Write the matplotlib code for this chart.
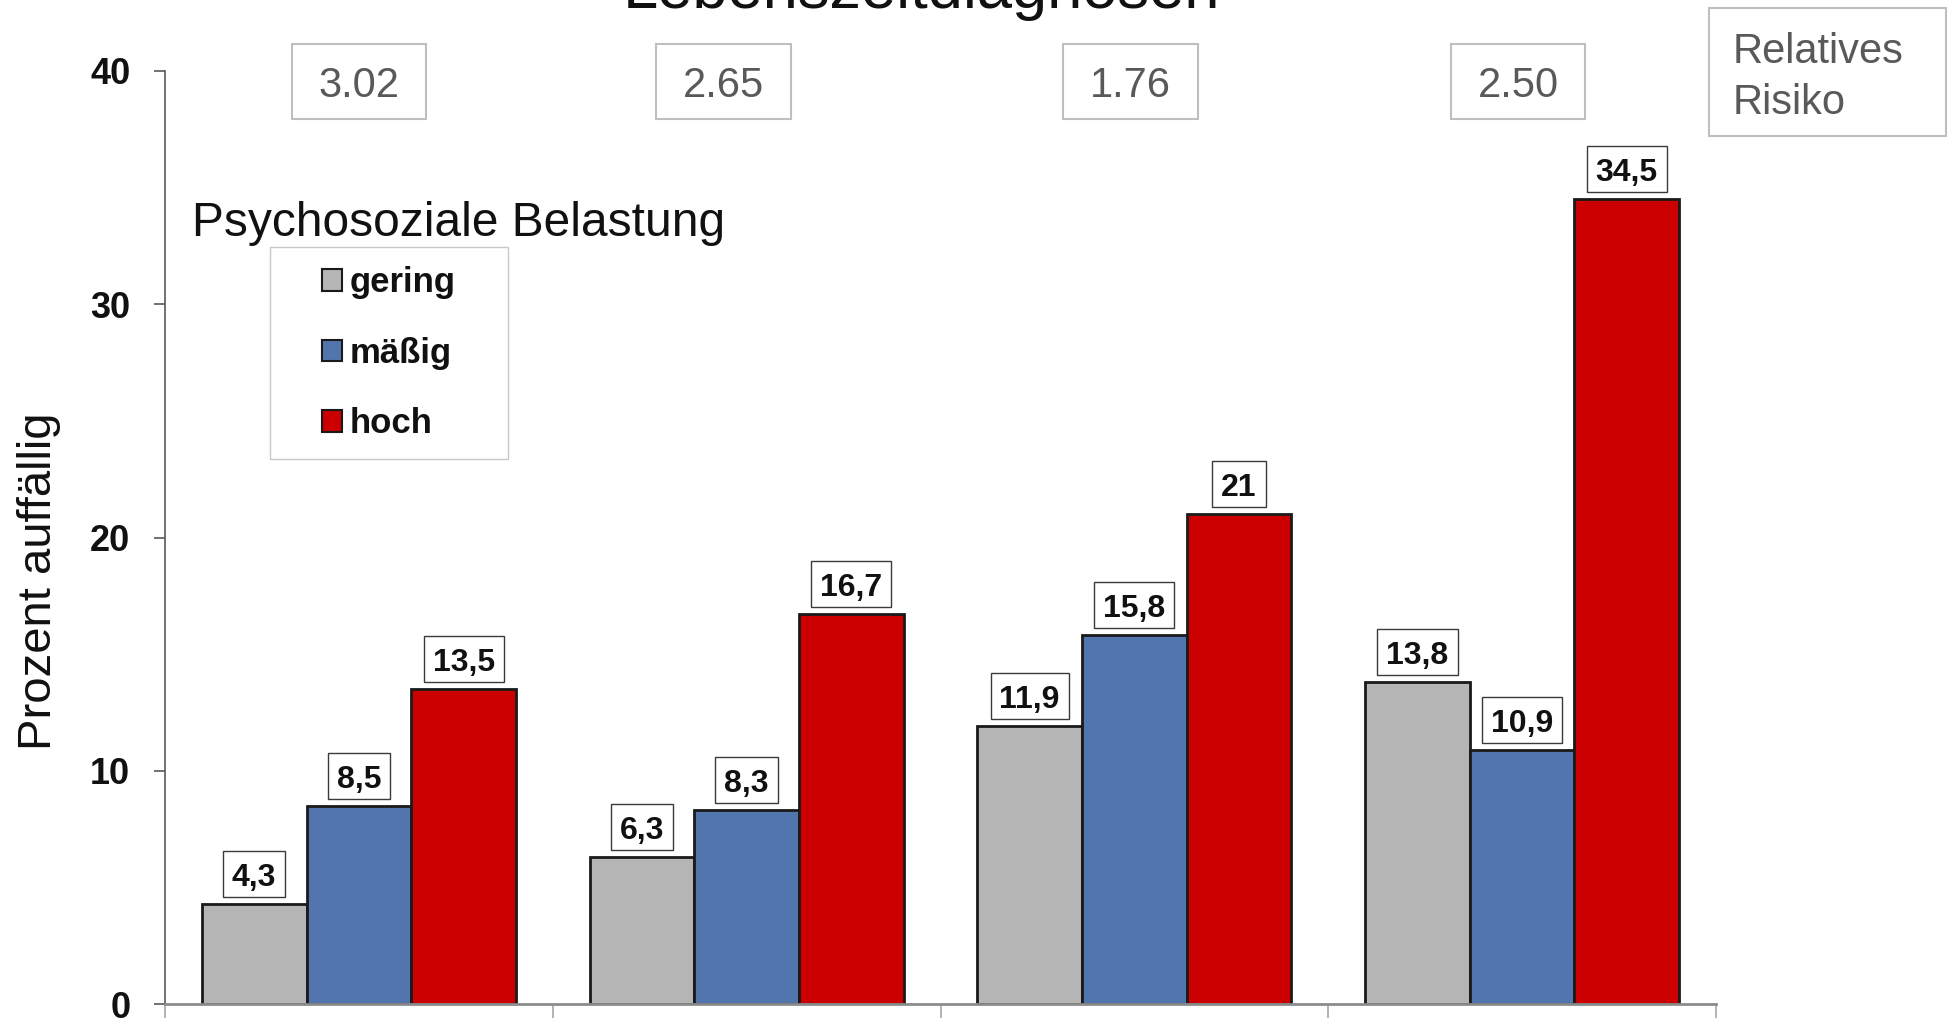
import matplotlib
matplotlib.use("Agg")
import matplotlib.pyplot as plt
from matplotlib.patches import Patch
from matplotlib.path import Path
import numpy as np

plt.rcParams["font.family"] = ["Liberation Sans", "DejaVu Sans"]

# --- data -------------------------------------------------------------
levels = ["gering", "mäßig", "hoch"]
gering = [4.3, 6.3, 11.9, 13.8]
maessig = [8.5, 8.3, 15.8, 10.9]
hoch = [13.5, 16.7, 21.0, 34.5]
relative_risk = [3.02, 2.65, 1.76, 2.50]
yticks = [0, 10, 20, 30, 40]

series = [gering, maessig, hoch]
colors = ["#B5B5B5", "#5375AD", "#CC0000"]

# --- figure geometry (pixels) -----------------------------------------
W, H = 1952, 1018
DPI = 100
fig = plt.figure(figsize=(W / DPI, H / DPI), dpi=DPI)


def fx(x):
    return x / W


def fy(y):
    return 1 - y / H


def pad_box(left, right, bottom, top):
    """Rectangular box style with separate paddings (fractions of font size)."""
    def style(x0, y0, width, height, mutation_size):
        l, r, b, t = (p * mutation_size for p in (left, right, bottom, top))
        verts = [(x0 - l, y0 - b), (x0 + width + r, y0 - b),
                 (x0 + width + r, y0 + height + t), (x0 - l, y0 + height + t),
                 (x0 - l, y0 - b)]
        return Path(verts, closed=True)
    return style


ax = fig.add_axes([fx(165), fy(1004), (1716 - 165) / W, (1004 - 71) / H])
ax.set_xlim(-0.5, 3.5)
ax.set_ylim(0, 40)

# --- bars --------------------------------------------------------------
x = np.arange(len(gering))
bar_w = 0.27
for j, (vals, col) in enumerate(zip(series, colors)):
    xs = x + (j - 1) * bar_w
    ax.bar(xs, vals, width=bar_w, color=col, edgecolor="#1a1a1a",
           linewidth=2, zorder=3)
    for xi, v in zip(xs, vals):
        ax.annotate(f"{v:g}".replace(".", ","), xy=(xi, v), xytext=(0, 18.8),
                    textcoords="offset points", ha="center", va="center",
                    fontsize=23, fontweight="bold", color="#111111", zorder=5,
                    bbox=dict(boxstyle=pad_box(0.28, 0.28, 0.125, 0.375),
                              fc="white", ec="#3a3a3a", lw=1))

# --- relative risk boxes above each group -----------------------------
rr_shift = [0.0, -0.06, -0.01, -0.01]
for xi, rr, s in zip(x, relative_risk, rr_shift):
    ax.text(xi + s, 39.34, f"{rr:.2f}", ha="center", va="center",
            fontsize=30, color="#595959", clip_on=False, zorder=5,
            bbox=dict(boxstyle=pad_box(0.64, 0.64, 0.30, 0.54),
                      fc="white", ec="#bfbfbf", lw=1.5))

fig.text(fx(1733), fy(32), "Relatives\nRisiko", ha="left", va="top",
         fontsize=30, color="#595959", linespacing=1.37,
         bbox=dict(boxstyle=pad_box(0.58, 1.0, 0.31, 0.58),
                   fc="white", ec="#bfbfbf", lw=1.5))

# --- axes styling ------------------------------------------------------
for side in ("top", "right"):
    ax.spines[side].set_visible(False)
ax.spines["left"].set_color("#595959")
ax.spines["left"].set_linewidth(1.2)
ax.spines["bottom"].set_color("#8c8c8c")
ax.spines["bottom"].set_linewidth(2)
ax.spines["bottom"].set_zorder(4)

ax.set_yticks(yticks)
ax.set_yticklabels([str(t) for t in yticks], fontsize=26, fontweight="bold",
                   color="#111111")
ax.tick_params(axis="y", length=8, width=1.2, color="#595959", pad=17)
ax.set_xticks(np.arange(-0.5, len(gering), 1.0))
ax.set_xticklabels([])
ax.tick_params(axis="x", length=11, width=1.2, color="#a6a6a6")

# --- legend ------------------------------------------------------------
handles = [Patch(facecolor=c, edgecolor="#1a1a1a", linewidth=1.5, label=l)
           for c, l in zip(colors, levels)]
leg = ax.legend(handles=handles, loc="upper left",
                bbox_to_anchor=(fx(303), fy(247)),
                bbox_transform=fig.transFigure, borderaxespad=0,
                borderpad=0.55, labelspacing=1.08, handlelength=0.58,
                handleheight=0.58, handletextpad=0.22,
                prop={"size": 25, "weight": "bold"}, frameon=True,
                fancybox=False, edgecolor="#c8c8c8", framealpha=1)
for t in leg.get_texts():
    t.set_color("#111111")
frame = leg.get_frame()
frame.set_linewidth(1)
frame.set_boxstyle(pad_box(0.95, 0.95, 0, 0))

# --- texts -------------------------------------------------------------
fig.text(fx(192), fy(224), "Psychosoziale Belastung", ha="left", va="center",
         fontsize=34.5, color="#111111")
fig.text(fx(39.5), fy(581), "Prozent auffällig", rotation=90, ha="center",
         va="center", fontsize=34, color="#111111")
fig.text(fx(921), fy(8), "Lebenszeitdiagnosen", ha="center", va="baseline",
         fontsize=45.5, color="#111111")

fig.savefig("out.png", dpi=DPI)
